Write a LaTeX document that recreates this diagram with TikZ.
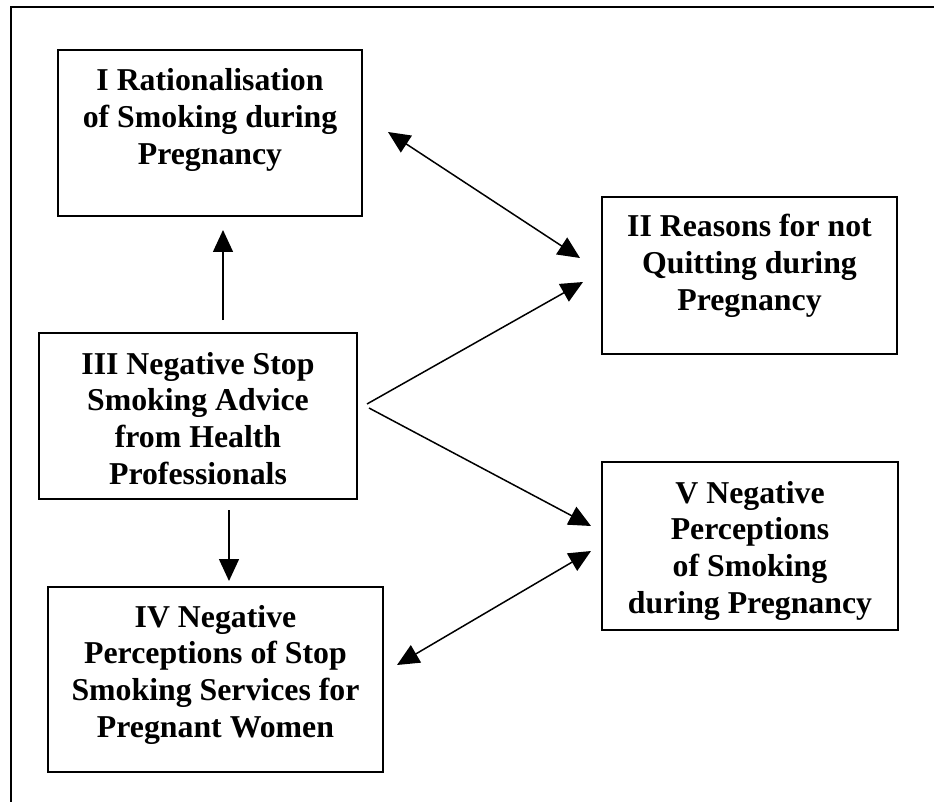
\documentclass[tikz,border=0pt]{standalone}
\usepackage{fontspec}
\setmainfont{Liberation Serif}
\usetikzlibrary{arrows.meta}

\begin{document}
\begin{tikzpicture}[x=1pt,y=-1pt,
  box/.style={draw=black, line width=1.6pt, rectangle, inner sep=0pt},
  label/.style={anchor=base, inner sep=0pt},
  tip/.style={Triangle[length=22pt,width=20pt]},
  link/.style={line width=1.5pt, -{Triangle[length=22pt,width=20pt]}},
  twoway/.style={line width=1.5pt, {Triangle[length=22pt,width=20pt]}-{Triangle[length=22pt,width=20pt]}}]
\useasboundingbox (0,0) rectangle (934,802);

% open frame: top and left rules only
\draw[line width=2pt] (11,802) -- (11,7) -- (934,7);

\newcommand{\boxtext}[1]{\parbox[t]{340pt}{\centering\bfseries\fontsize{31.8}{36.7}\selectfont #1}}

% theme boxes
\node[box, minimum width=304pt, minimum height=166pt] (b1) at (210,133) {};
\node[box, minimum width=295pt, minimum height=157pt] (b2) at (749.5,275.5) {};
\node[box, minimum width=318pt, minimum height=166pt] (b3) at (198,416) {};
\node[box, minimum width=335pt, minimum height=185pt] (b4) at (215.5,679.5) {};
\node[box, minimum width=296pt, minimum height=168pt] (b5) at (750,546) {};

% theme titles
\node[label] (t1) at (210,91) {\boxtext{I Rationalisation\\of Smoking during\\Pregnancy}};
\node[label] (t2) at (749.5,237) {\boxtext{II Reasons for not\\Quitting during\\Pregnancy}};
\node[label] (t3) at (198,374) {\boxtext{III Negative Stop\\Smoking Advice\\from Health\\Professionals}};
\node[label] (t4) at (215.5,627) {\boxtext{IV Negative\\Perceptions of Stop\\Smoking Services for\\Pregnant Women}};
\node[label] (t5) at (750,503) {\boxtext{V Negative\\Perceptions\\of Smoking\\during Pregnancy}};

% connector end points
\coordinate (p3up)   at (223,320);
\coordinate (p1down) at (223,230);
\coordinate (p3down) at (229,510);
\coordinate (p4up)   at (229,581);
\coordinate (p1right) at (388,132);
\coordinate (p2left)  at (580,258);
\coordinate (p3a)     at (367,404);
\coordinate (p2low)   at (583,282);
\coordinate (p3b)     at (369,408);
\coordinate (p5up)    at (591,526);
\coordinate (p4right) at (397,665);
\coordinate (p5low)   at (591,551);

% connectors
\draw[link] (p3up) -- (p1down);
\draw[link] (p3down) -- (p4up);
\draw[twoway] (p1right) -- (p2left);
\draw[link] (p3a) -- (p2low);
\draw[link] (p3b) -- (p5up);
\draw[twoway] (p4right) -- (p5low);
\end{tikzpicture}
\end{document}
